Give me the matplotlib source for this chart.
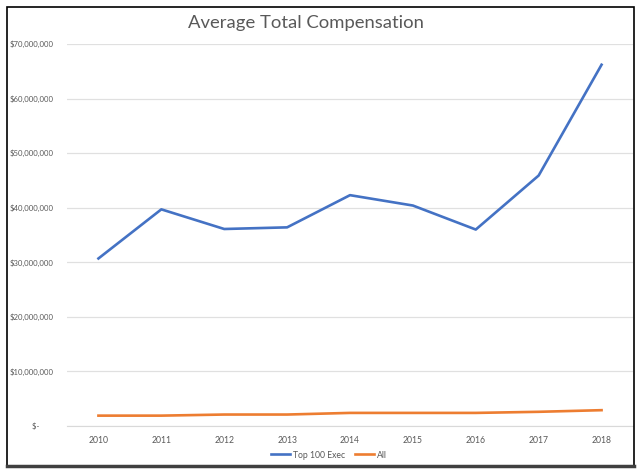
import matplotlib.pyplot as plt
from matplotlib.patches import Rectangle
from matplotlib.ticker import FuncFormatter

# dados
years = ["2010", "2011", "2012", "2013", "2014", "2015", "2016", "2017", "2018"]
top100_exec = [30.7e6, 39.7e6, 36.1e6, 36.4e6, 42.3e6, 40.4e6, 36.0e6, 45.9e6, 66.2e6]
all_comp = [1.9e6, 1.9e6, 2.1e6, 2.1e6, 2.4e6, 2.4e6, 2.4e6, 2.6e6, 2.9e6]

plt.rcParams['font.family'] = ['Lato', 'DejaVu Sans']

def money(v, pos):
    if v == 0:
        return "$-       "
    return f"${v:,.0f}"

fig = plt.figure(figsize=(6.4, 4.73), dpi=100)
ax = fig.add_axes([67 / 640, 1 - 426 / 473, 566 / 640, 382 / 473])

x = range(len(years))
ax.plot(x, top100_exec, color='#4472C4', lw=1.9, label='Top 100 Exec')
ax.plot(x, all_comp, color='#ED7D31', lw=1.9, label='All')

ax.set_ylim(0, 70e6)
ax.set_xlim(-0.5, len(years) - 0.5)
ax.set_yticks([i * 10e6 for i in range(8)])
ax.yaxis.set_major_formatter(FuncFormatter(money))
ax.set_xticks(list(x))
ax.set_xticklabels(years)
ax.tick_params(length=0, labelsize=6.2, colors='#595959', pad=7)
ax.tick_params(axis='y', labelsize=5.6, pad=10)
ax.grid(axis='y', color='#e0e0e0', lw=0.9)
ax.set_axisbelow(True)
for s in ['top', 'right', 'left']:
    ax.spines[s].set_visible(False)
ax.spines['bottom'].set_color('#d9d9d9')

fig.text(306 / 640, 1 - 23 / 473, "Average Total Compensation", ha='center', va='center',
         fontsize=13.3, color='#595959')

fig.legend(loc='center', bbox_to_anchor=(329 / 640, 1 - 455 / 473), ncol=2, frameon=False,
           fontsize=6.2, labelcolor='#595959', handlelength=2.2, handletextpad=0.3,
           columnspacing=1.2)

# moldura externa
fig.patches.append(Rectangle((7 / 640, 1 - 466 / 473), 627 / 640, 459 / 473,
                             transform=fig.transFigure, fill=False, ec='black', lw=1.2))
fig.lines.append(plt.Line2D([7 / 640, 634 / 640], [1 - 466 / 473] * 2,
                            transform=fig.transFigure, color='#404040', lw=2.5))

fig.savefig('out.png', dpi=100)
